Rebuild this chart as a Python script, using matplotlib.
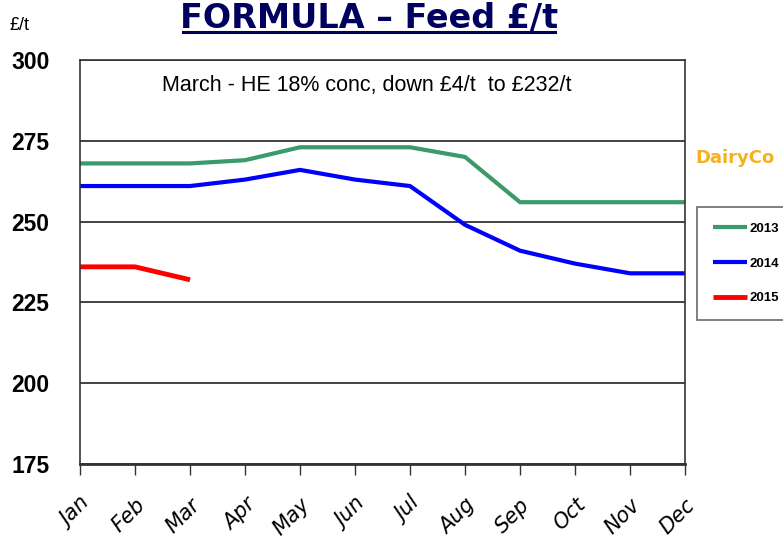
import matplotlib as mpl
mpl.use('Agg')
import matplotlib.pyplot as plt
from matplotlib.lines import Line2D

months = ['Jan', 'Feb', 'Mar', 'Apr', 'May', 'Jun', 'Jul', 'Aug', 'Sep', 'Oct', 'Nov', 'Dec']
feed_2013 = [268, 268, 268, 269, 273, 273, 273, 270, 256, 256, 256, 256]
feed_2014 = [261, 261, 261, 263, 266, 263, 261, 249, 241, 237, 234, 234]
feed_2015 = [236, 236, 232]
yticks = [175, 200, 225, 250, 275, 300]

narrow = ['Liberation Sans Narrow', 'Liberation Sans', 'DejaVu Sans']

fig = plt.figure(figsize=(7.83, 5.43), dpi=100)
ax = fig.add_axes([0.1022, 0.1455, 0.7727, 0.744])

x = list(range(len(months)))
l13, = ax.plot(x, feed_2013, color='#3a9a6a', lw=3, solid_capstyle='butt')
l14, = ax.plot(x, feed_2014, color='#0000ff', lw=3, solid_capstyle='butt')
l15, = ax.plot(x[:len(feed_2015)], feed_2015, color='#ff0000', lw=3.5, solid_capstyle='butt')

ax.set_xlim(0, 11)
ax.set_ylim(175, 300)
ax.set_yticks(yticks)
ax.set_yticklabels([str(v) for v in yticks], family=narrow, fontweight='bold', fontsize=16.5)
ax.set_xticks(x)
ax.set_xticklabels(months, rotation=45, ha='right', va='top', rotation_mode='anchor',
                   fontsize=15, style='italic', family='DejaVu Sans')
ax.tick_params(axis='x', length=8, width=1, color='#333333', pad=14)
ax.tick_params(axis='y', length=0, pad=22)
ax.grid(axis='y', color='#222222', lw=1.2)
for s in ax.spines.values():
    s.set_color('#333333')
    s.set_linewidth(1.2)
ax.spines['bottom'].set_linewidth(2)

ax.text(0.474, 0.938, 'March - HE 18% conc, down £4/t  to £232/t', transform=ax.transAxes,
        ha='center', va='center', fontsize=15.5, family=narrow)

fig.text(369 / 783, 1 - 28 / 543, 'FORMULA \u2013 Feed £/t', ha='center', va='baseline',
         fontsize=24, fontweight='bold', color='#00005e', family='DejaVu Sans')
fig.add_artist(Line2D([183 / 783, 555 / 783], [1 - 32 / 543, 1 - 32 / 543],
                      color='#00005e', lw=2.2, transform=fig.transFigure))
fig.text(10 / 783, 1 - 30 / 543, '£/t', ha='left', va='baseline', fontsize=13,
         family=narrow)

fig.text(735 / 783, 1 - 158 / 543, 'DairyCo', ha='center', va='center', fontsize=13,
         color='#f5b120', family='DejaVu Sans', fontweight='bold')

leg = fig.legend([l13, l14, l15], ['2013', '2014', '2015'], loc='upper left',
                 bbox_to_anchor=(697 / 783, 1 - 207 / 543), borderaxespad=0,
                 frameon=True, fancybox=False,
                 handlelength=2.6, labelspacing=1.7, borderpad=1.2, handletextpad=0.15,
                 prop={'family': narrow, 'weight': 'bold', 'size': 9.5})
leg.get_frame().set_edgecolor('#444444')
leg.get_frame().set_linewidth(1.2)

plt.savefig('out.png')
